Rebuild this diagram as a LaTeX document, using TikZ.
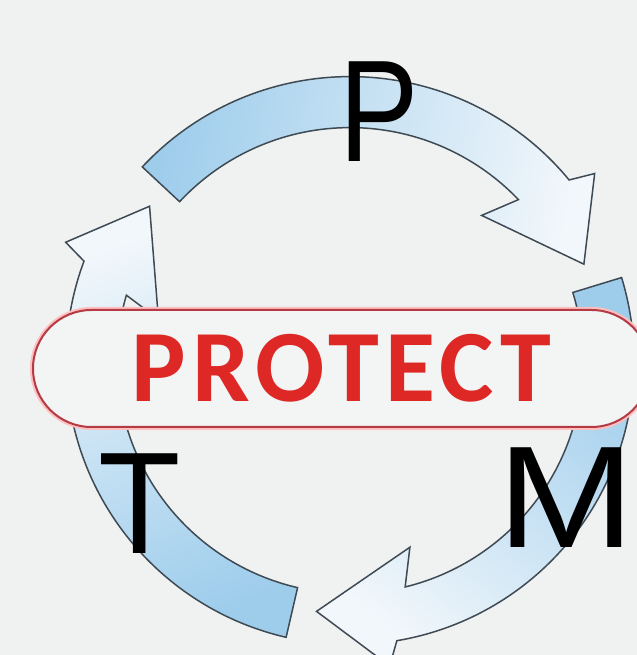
\documentclass[tikz,border=0pt]{standalone}
\usepackage{fontspec}
\setmainfont{Liberation Sans}
\newfontfamily\calfont[LetterSpace=6]{Carlito}

\definecolor{bggray}{RGB}{240,241,241}
\definecolor{arrowdark}{RGB}{158,205,236}
\definecolor{arrowlight}{RGB}{242,247,251}
\definecolor{arrowline}{RGB}{62,74,84}
\definecolor{pillred}{RGB}{180,58,68}
\definecolor{textred}{RGB}{222,40,38}

\tikzset{
  cyclearrow/.style={draw=arrowline, line width=0.75pt, top color=arrowlight,
    middle color=arrowdark!65!arrowlight, bottom color=arrowdark},
  bigletter/.style={font=\fontsize{72.5}{80}\selectfont, inner sep=0pt, anchor=base},
}

\begin{document}
\begin{tikzpicture}[x=0.5pt, y=0.5pt]
    \clip (0,0) rectangle (637,655);
    \fill[bggray] (0,0) rectangle (637,655);
    \coordinate (C) at (350,294.4);

    % arrow above the pill
    \draw[cyclearrow, shading angle=-100, shift={(C)}]
    (137:284) arc[start angle=137, end angle=39.5, radius=284]
    -- (37.4:308) -- (22.4:253) -- (47.8:196) -- (43.7:233)
    arc[start angle=43.7, end angle=137, radius=233] -- cycle;

    % arrow on the right
    \draw[cyclearrow, shading angle=140, shift={(C)}]
    (17:284) arc[start angle=17, end angle=-80.5, radius=284]
    -- (-82.6:308) -- (-97.6:253) -- (-72.2:196) -- (-76.3:233)
    arc[start angle=-76.3, end angle=17, radius=233] -- cycle;

    % arrow on the left
    \draw[cyclearrow, shading angle=20, shift={(C)}]
    (257:284) arc[start angle=257, end angle=159.5, radius=284]
    -- (157.4:308) -- (142.4:253) -- (167.8:196) -- (163.7:233)
    arc[start angle=163.7, end angle=257, radius=233] -- cycle;

    \node[draw=pillred, line width=1pt, fill=bggray!80!white,
      rounded corners=29.25pt, minimum width=308.5pt, minimum height=58.5pt,
      inner sep=0pt, text=textred,
      font=\calfont\bfseries\fontsize{51.25}{60}\selectfont,
      preaction={draw=red!25, line width=3pt}]
      (protect) at (341.5,286.5) {PROTECT};

    \node[bigletter] (p) at (379,493) {\scalebox{0.82}[1]{P}};
    \node[bigletter] (t) at (140,102) {\scalebox{0.93}[1]{T}};
    \node[bigletter] (m) at (566.5,107) {\scalebox{1.14}[1]{M}};

  \end{tikzpicture}
\end{document}
